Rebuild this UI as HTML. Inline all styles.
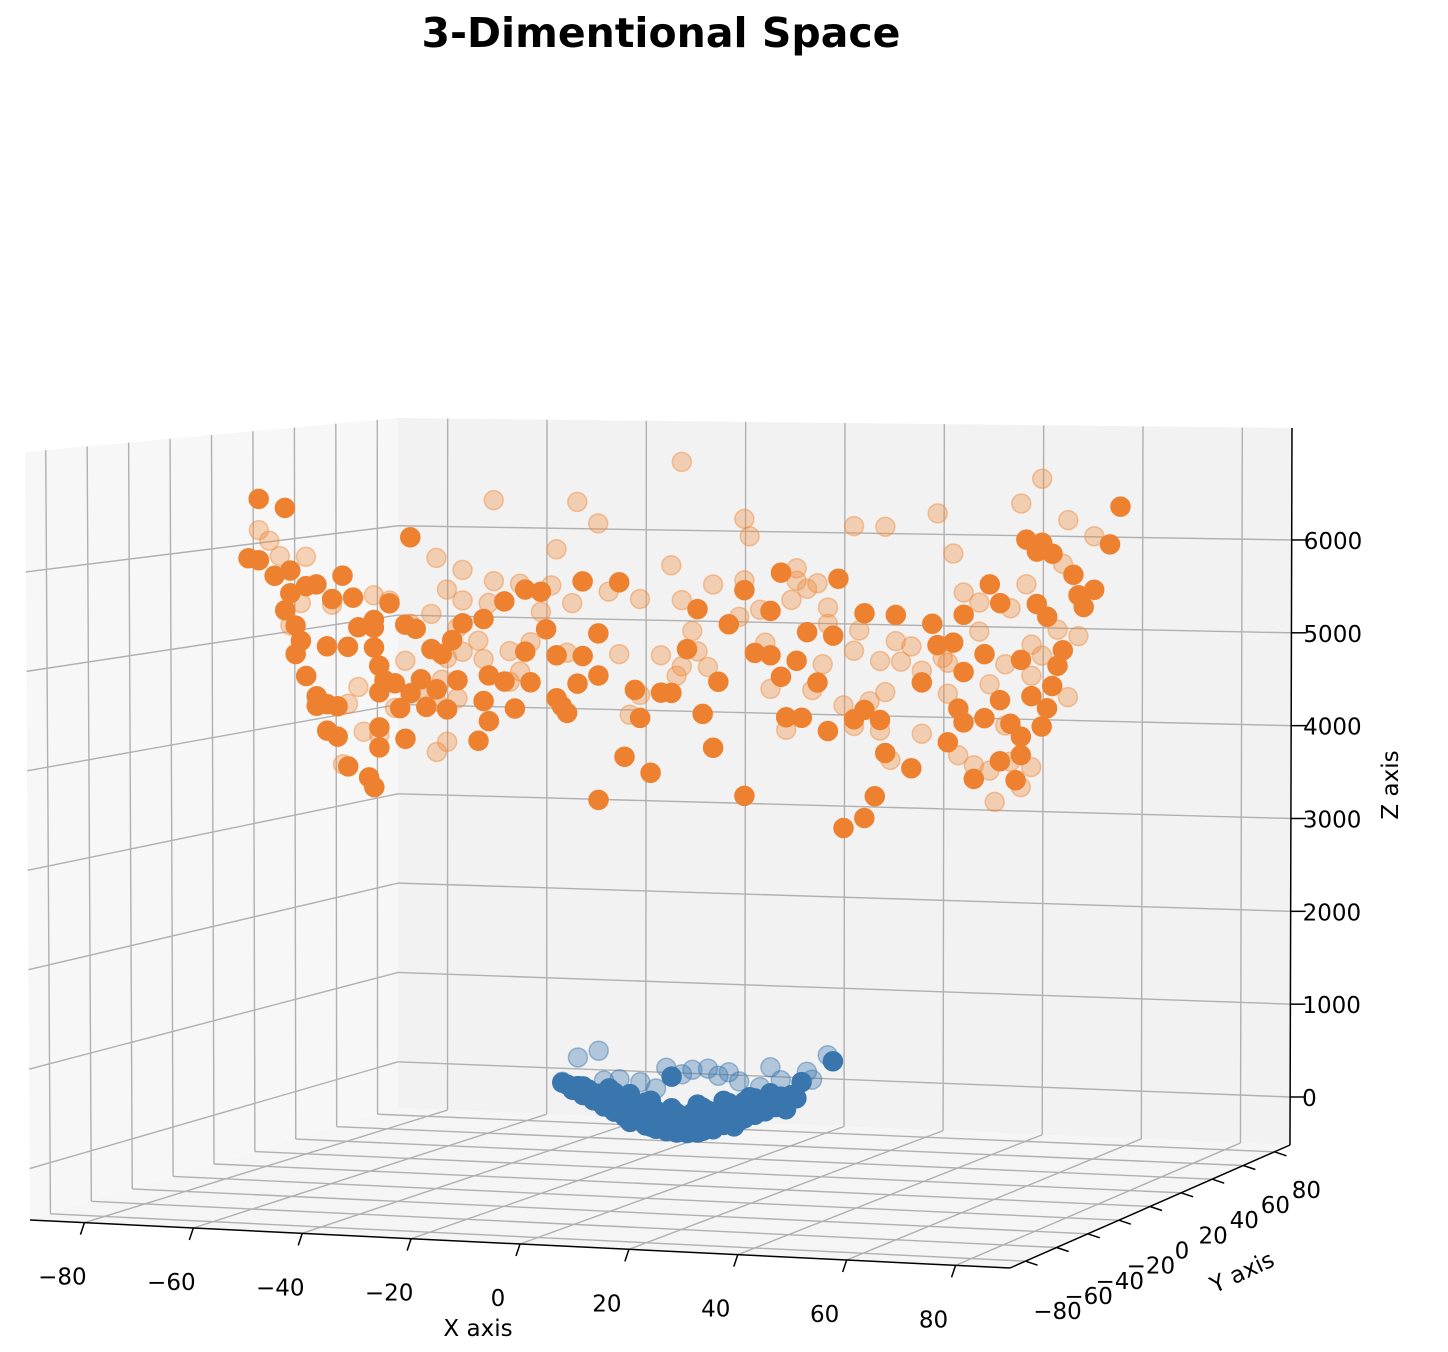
<!DOCTYPE html>
<html><head><meta charset="utf-8"><style>
html,body{margin:0;padding:0;background:#fff;}
svg{display:block;font-family:"DejaVu Sans","Liberation Sans",sans-serif;}
</style></head><body>
<svg id="chart" width="1448" height="1352" viewBox="0 0 1448 1352" xmlns="http://www.w3.org/2000/svg">
<text x="661" y="47" text-anchor="middle" font-size="41" font-weight="bold">3-Dimentional Space</text>
<g id="panes"></g>
<g id="grid"></g>
<g id="axes"></g>
<g id="pts"></g>
<text x="478" y="1336" text-anchor="middle" font-size="23">X axis</text>
<text x="1242" y="1280" text-anchor="middle" font-size="23" transform="rotate(-25 1242 1272)">Y axis</text>
<text x="1398" y="785" text-anchor="middle" font-size="23" transform="rotate(-90 1398 785)">Z axis</text>
</svg>
<script>
const xTicks=[-80,-60,-40,-20,0,20,40,60,80];
const yTicks=[-80,-60,-40,-20,0,20,40,60,80];
const zTicks=[0,1000,2000,3000,4000,5000,6000];
const orangeNearX=[-81,-76,-52,-19,-12,19,30,66,68,84,82,79,59,61,54,48,41,35,29,24,17,12,3,1,7,4,6,12,-6,-11,-16,-22,-24,-16,-9,-8,-4,-2,9,14,17,22,19,26,20,23,28,33,35,38,31,35,37,39,44,46,52,49,54,58,61,53,51,58,54,63,56,61,64,65,65,70,71,72,73,69,67,65,68,70,75,76,77,71,69,
-81,-78,-75,-83,-75,-72,-70,-76,-74,-73,-74,-72,-70,-70,-68,-66,-68,-66,-64,-60,-59,-58,-58,-54,-53,-57,-58,-59,-58,-55,-52,-49,-50,-48,-53,-51,-56,-59,-63,-67,-65,-62,-68,-64,-59,-47,-43,-44,-42,-38,-34,-30,-27,-24,-19,-20,-16,-26,-30,-37,-39,-37,-32,-34,-29,-23,-38,-46,-45,-47];
const orangeNearZ=[6540,6450,6170,5750,5750,5890,5840,6290,6170,6650,6260,5790,5820,5630,5500,5400,5480,5490,5250,5280,5490,5700,5490,5070,4740,4400,4050,3560,3770,3930,3470,4370,4520,4770,4630,4340,4610,4610,5340,5050,5030,4980,4810,4760,4390,4390,4260,4390,4490,4390,3260,3370,3600,4050,3900,4790,5210,5180,4910,5100,4630,4530,4180,4440,4390,4390,3810,4000,3810,4070,4260,4560,4790,5000,5160,4370,4680,5050,5630,5500,5940,5730,5610,6150,6260,
5890,5730,5790,5910,5550,5630,5650,5370,5210,5050,4910,4680,4470,4370,4390,4370,4110,4050,3740,3630,3530,3950,4160,4370,4050,4660,4810,5000,4530,4630,4530,4390,4680,5000,5250,5210,5470,5290,5520,5500,5750,5210,5000,5000,5210,4580,4680,5100,5280,5330,5520,5650,5630,4970,4970,4680,5210,5240,5000,4740,4050,4260,4400,4680,4680,4440,4470,4950,4370,4580];
const orangeFarX=[0,-36,-20,-16,12,13,33,39,49,65,69,52,74,79,-24,-2,22,12,6,22,24,28,21,15,11,0,-8,-14,-21,-25,-27,-31,-36,-42,-47,-42,-45,-37,-52,-59,-56,-48,-43,-39,-33,-29,-31,-33,-45,-42,-38,-46,-50,-43,-47,-55,-53,-64,-62,-61,-65,-58,-47,-45,-22,-12,-4,2,3,0,5,-8,-1,-10,16,17,20,25,27,33,38,42,44,46,39,36,31,33,38,40,46,51,51,59,62,67,62,53,56,59,60,63,67,65,69,67,63,57,54,66,72,73,76,74,26,28,34,41,57,50,-75,-73,-81,-79,-77,-72,-67];
const orangeFarZ=[7020,6580,6580,6360,6440,6260,6390,6390,6540,6660,6920,6130,6500,6340,6080,5940,5940,5800,5750,5810,5730,5540,5610,5500,5420,5580,5580,5650,5520,5700,5420,5710,5730,5840,5960,5520,5630,5500,5260,5550,5500,5370,5230,5100,5000,5100,4790,4680,4910,4980,4910,4680,4580,4490,4450,4370,4870,4400,4580,4110,3760,4080,3920,4030,5000,5000,5000,5260,5050,4890,4890,4580,4790,4370,5160,4680,4260,4680,4950,5100,5000,5000,5160,4910,4680,4580,4530,4320,4280,3980,4260,5000,4680,4790,5000,4890,4370,4050,3950,3900,3580,4000,3950,3740,5100,5210,5580,5630,5730,5830,5370,6050,5310,4680,5790,5370,5310,5210,5330,5050,5210,5450,6210,6100,5940,5940,5440];
const blueFarX=[-20,-16,5,17,28,24,25,-23,-15,-8,2,11,15,0,7,-5,-18,-3,9,19,-12];
const blueFarZ=[770,850,710,750,900,720,640,510,540,540,690,590,540,640,640,480,430,700,680,620,560];
const blueNearX=[29,-2,23,-22,-21,-19,-17,-15,-13,-11,-9,-7,-5,-3,-1,1,3,4,6,8,10,12,14,16,18,20,22,-16,-12,-8,-4,0,3,7,11,15,19,-14,-10,-6,3,8,13,17,-10,-6,-2,2,6,10,-4,0,4,-12,14,
-23,-20,-18,-14,-9,-5,-1,2,5,9,12,16,18,21,-19,-13,-7,-2,4,9,14,-16,-11,-6,-1,5,10,15,-7,-3,1,5,8,-1,3,-3,1,6,11,20,17];
const blueNearZ=[840,610,610,480,430,380,330,270,220,170,140,90,60,40,30,30,40,60,90,130,170,210,250,290,340,380,440,400,330,270,220,190,200,240,290,380,450,460,410,350,330,380,430,480,120,80,50,50,80,120,150,140,150,220,300,
500,470,440,360,300,250,230,240,270,330,380,410,420,470,470,420,330,280,300,360,420,320,250,200,170,180,230,320,160,110,110,130,170,70,70,120,90,110,180,320,360];

const XMIN=-90,XMAX=90,YMIN=-90,YMAX=90,ZMIN=-517,ZMAX=7206;
const C={b00:[30,1220],b10:[1010,1268],b01:[398,1108],b11:[1290,1145],t00:[25,452],t10:[1012,478],t01:[398,418],t11:[1292,428]};
function lerp(a,b,t){return [a[0]+(b[0]-a[0])*t,a[1]+(b[1]-a[1])*t];}
function P(x,y,z){
  const u=(x-XMIN)/(XMAX-XMIN),v=(y-YMIN)/(YMAX-YMIN),w=(z-ZMIN)/(ZMAX-ZMIN);
  const b=lerp(lerp(C.b00,C.b10,u),lerp(C.b01,C.b11,u),v);
  const t=lerp(lerp(C.t00,C.t10,u),lerp(C.t01,C.t11,u),v);
  return lerp(b,t,w);
}
const NS='http://www.w3.org/2000/svg';
function mk(tag,parent,attrs){const e=document.createElementNS(NS,tag);for(const k in attrs)e.setAttribute(k,attrs[k]);parent.appendChild(e);return e;}
function poly(pts){return pts.map(p=>p[0].toFixed(1)+','+p[1].toFixed(1)).join(' ');}
const panes=document.getElementById('panes'),grid=document.getElementById('grid'),axes=document.getElementById('axes'),pts=document.getElementById('pts');
let e;
e=mk('polygon',panes,{points:poly([P(XMIN,YMIN,ZMIN),P(XMIN,YMAX,ZMIN),P(XMIN,YMAX,ZMAX),P(XMIN,YMIN,ZMAX)]),fill:'#f7f7f7'});


e=mk('polygon',panes,{points:poly([P(XMIN,YMAX,ZMIN),P(XMAX,YMAX,ZMIN),P(XMAX,YMAX,ZMAX),P(XMIN,YMAX,ZMAX)]),fill:'#f2f2f2'});


e=mk('polygon',panes,{points:poly([P(XMIN,YMIN,ZMIN),P(XMAX,YMIN,ZMIN),P(XMAX,YMAX,ZMIN),P(XMIN,YMAX,ZMIN)]),fill:'#f5f5f5'});


function gl(a,b,name){const l=mk('line',grid,{x1:a[0],y1:a[1],x2:b[0],y2:b[1],stroke:'#b0b0b0','stroke-width':1.4});

}
xTicks.forEach(x=>{gl(P(x,YMIN,ZMIN),P(x,YMAX,ZMIN),'x-gridline');gl(P(x,YMAX,ZMIN),P(x,YMAX,ZMAX),'x-gridline');});
yTicks.forEach(y=>{gl(P(XMIN,y,ZMIN),P(XMAX,y,ZMIN),'y-gridline');gl(P(XMIN,y,ZMIN),P(XMIN,y,ZMAX),'y-gridline');});
zTicks.forEach(z=>{gl(P(XMIN,YMAX,z),P(XMAX,YMAX,z),'z-gridline');gl(P(XMIN,YMIN,z),P(XMIN,YMAX,z),'z-gridline');});
function al(a,b,name){const l=mk('line',axes,{x1:a[0],y1:a[1],x2:b[0],y2:b[1],stroke:'#000','stroke-width':1.5});

}
al(P(XMIN,YMIN,ZMIN),P(XMAX,YMIN,ZMIN),'x-axis-line');
al(P(XMAX,YMIN,ZMIN),P(XMAX,YMAX,ZMIN),'y-axis-line');
al(P(XMAX,YMAX,ZMIN),P(XMAX,YMAX,ZMAX),'z-axis-line');
function lbl(x,y,txt,anchor,name){const t=mk('text',axes,{x:x,y:y,'font-size':23,'text-anchor':anchor});t.textContent=txt;

}
const fmt=v=>v<0?'\u2212'+Math.abs(v):String(v);
xTicks.forEach(x=>{const p=P(x,YMIN,ZMIN);al(p,[p[0]-4,p[1]+12],'x-tick');lbl(p[0]-22,p[1]+62,fmt(x),'middle','x-tick-label');});
yTicks.forEach(y=>{const p=P(XMAX,y,ZMIN);al(p,[p[0]+12,p[1]+4],'y-tick');lbl(p[0]+32,p[1]+58-(y+80)/160*12,fmt(y),'middle','y-tick-label');});
zTicks.forEach(z=>{const p=P(XMAX,YMAX,z);al(p,[p[0]+15,p[1]],'z-tick');lbl(p[0]+12,p[1]+9,fmt(z),'start','z-tick-label');});
function dot(x,z,fill,op,name){const p=P(x,0,z);const c=mk('circle',pts,{cx:p[0].toFixed(1),cy:p[1].toFixed(1),r:9.5,fill:fill,stroke:fill,'stroke-width':1.5,'fill-opacity':op,'stroke-opacity':Math.min(1,op+0.1)});

}
orangeFarX.forEach((x,i)=>dot(x,orangeFarZ[i],'#f08a3a',0.35,'orange-point-far'));
blueFarX.forEach((x,i)=>dot(x,blueFarZ[i],'#3a76ae',0.35,'blue-point-far'));
orangeNearX.forEach((x,i)=>dot(x,orangeNearZ[i],'#ee8130',1,'orange-point'));
blueNearX.forEach((x,i)=>dot(x,blueNearZ[i],'#3a76ae',1,'blue-point'));
</script>
</body></html>
